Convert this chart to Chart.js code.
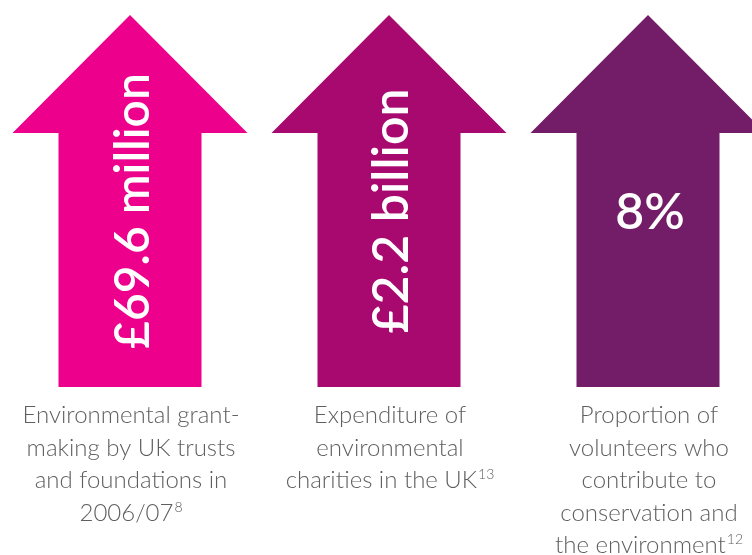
<!DOCTYPE html>
<html>
<head>
<meta charset="utf-8">
<script src="https://cdn.jsdelivr.net/npm/chart.js@4.4.0/dist/chart.umd.min.js"></script>
<style>
  html, body { margin: 0; padding: 0; background: #fff; overflow: hidden; }
  #wrap { width: 752px; height: 555px; position: relative; }
</style>
</head>
<body>
<div id="wrap"><canvas id="myChart"></canvas></div>
<script>
// three headline figures, one arrow each
const figures = ['£69.6 million', '£2.2 billion', '8%'];
const arrowHeight = [1, 1, 1];
const captions = [
  ['Environmental grant-', 'making by UK trusts', 'and foundations in', '2006/07'],
  ['Expenditure of', 'environmental', 'charities in the UK'],
  ['Proportion of', 'volunteers who', 'contribute to', 'conservation and', 'the environment']
];
const footnotes = ['8', '13', '12'];

// look of the arrows and text
const colours = ['#ec008c', '#a8096e', '#731c67'];
const upright = [false, false, true];
const figureSize = [48, 50, 50];
const headHalf = 117.5;
const headLen = 118;

const arrows = {
  id: 'arrows',
  beforeDatasetDraw(chart, args) {
    const ctx = chart.ctx;
    args.meta.data.forEach((bar, i) => {
      const p = bar.getProps(['x', 'y', 'base', 'width'], true);
      const half = p.width / 2;
      ctx.save();
      ctx.fillStyle = colours[i];
      ctx.beginPath();
      ctx.moveTo(p.x, p.y);
      ctx.lineTo(p.x + headHalf, p.y + headLen);
      ctx.lineTo(p.x + half, p.y + headLen);
      ctx.lineTo(p.x + half, p.base);
      ctx.lineTo(p.x - half, p.base);
      ctx.lineTo(p.x - half, p.y + headLen);
      ctx.lineTo(p.x - headHalf, p.y + headLen);
      ctx.closePath();
      ctx.fill();

      // the figure, running up the shaft or sitting level
      ctx.fillStyle = '#fff';
      ctx.font = '600 ' + figureSize[i] + 'px Lato';
      ctx.textAlign = 'center';
      ctx.textBaseline = 'alphabetic';
      const midY = p.y + 196;
      if (upright[i]) {
        ctx.fillText(figures[i], p.x + 2, midY + 18);
      } else {
        ctx.translate(p.x + 19, midY);
        ctx.rotate(-Math.PI / 2);
        ctx.fillText(figures[i], 0, 0);
      }
      ctx.restore();
    });
    return false;
  },
  afterDraw(chart) {
    const ctx = chart.ctx;
    const meta = chart.getDatasetMeta(0);
    ctx.save();
    ctx.fillStyle = '#5f5f5f';
    ctx.textBaseline = 'alphabetic';
    ctx.textAlign = 'left';
    meta.data.forEach((bar, i) => {
      const cx = bar.x + 1;
      const lines = captions[i];
      lines.forEach((line, j) => {
        const y = chart.chartArea.bottom + 36 + j * 32.5;
        ctx.font = '300 24px Lato';
        const w = ctx.measureText(line).width;
        let sw = 0;
        const last = j === lines.length - 1;
        if (last) {
          ctx.font = '300 14px Lato';
          sw = ctx.measureText(footnotes[i]).width + 1;
        }
        const x0 = cx - (w + sw) / 2;
        ctx.font = '300 24px Lato';
        ctx.fillText(line, x0, y);
        if (last) {
          ctx.font = '300 14px Lato';
          ctx.fillText(footnotes[i], x0 + w + 1, y - 9);
        }
      });
    });
    ctx.restore();
  }
};

const ctx = document.getElementById('myChart');
new Chart(ctx, {
  type: 'bar',
  data: {
    labels: figures,
    datasets: [{
      data: arrowHeight.map((h, i) => ({ x: i, y: h })),
      backgroundColor: colours,
      barThickness: 143
    }]
  },
  options: {
    responsive: true,
    maintainAspectRatio: false,
    animation: false,
    layout: { padding: { top: 15, bottom: 168, left: 0, right: 0 } },
    plugins: { legend: { display: false }, tooltip: { enabled: false } },
    scales: {
      x: { type: 'linear', offset: false, min: -130 / 259, max: 622 / 259, display: false },
      y: { min: 0, max: 1, display: false }
    }
  },
  plugins: [arrows]
});
</script>
</body>
</html>
